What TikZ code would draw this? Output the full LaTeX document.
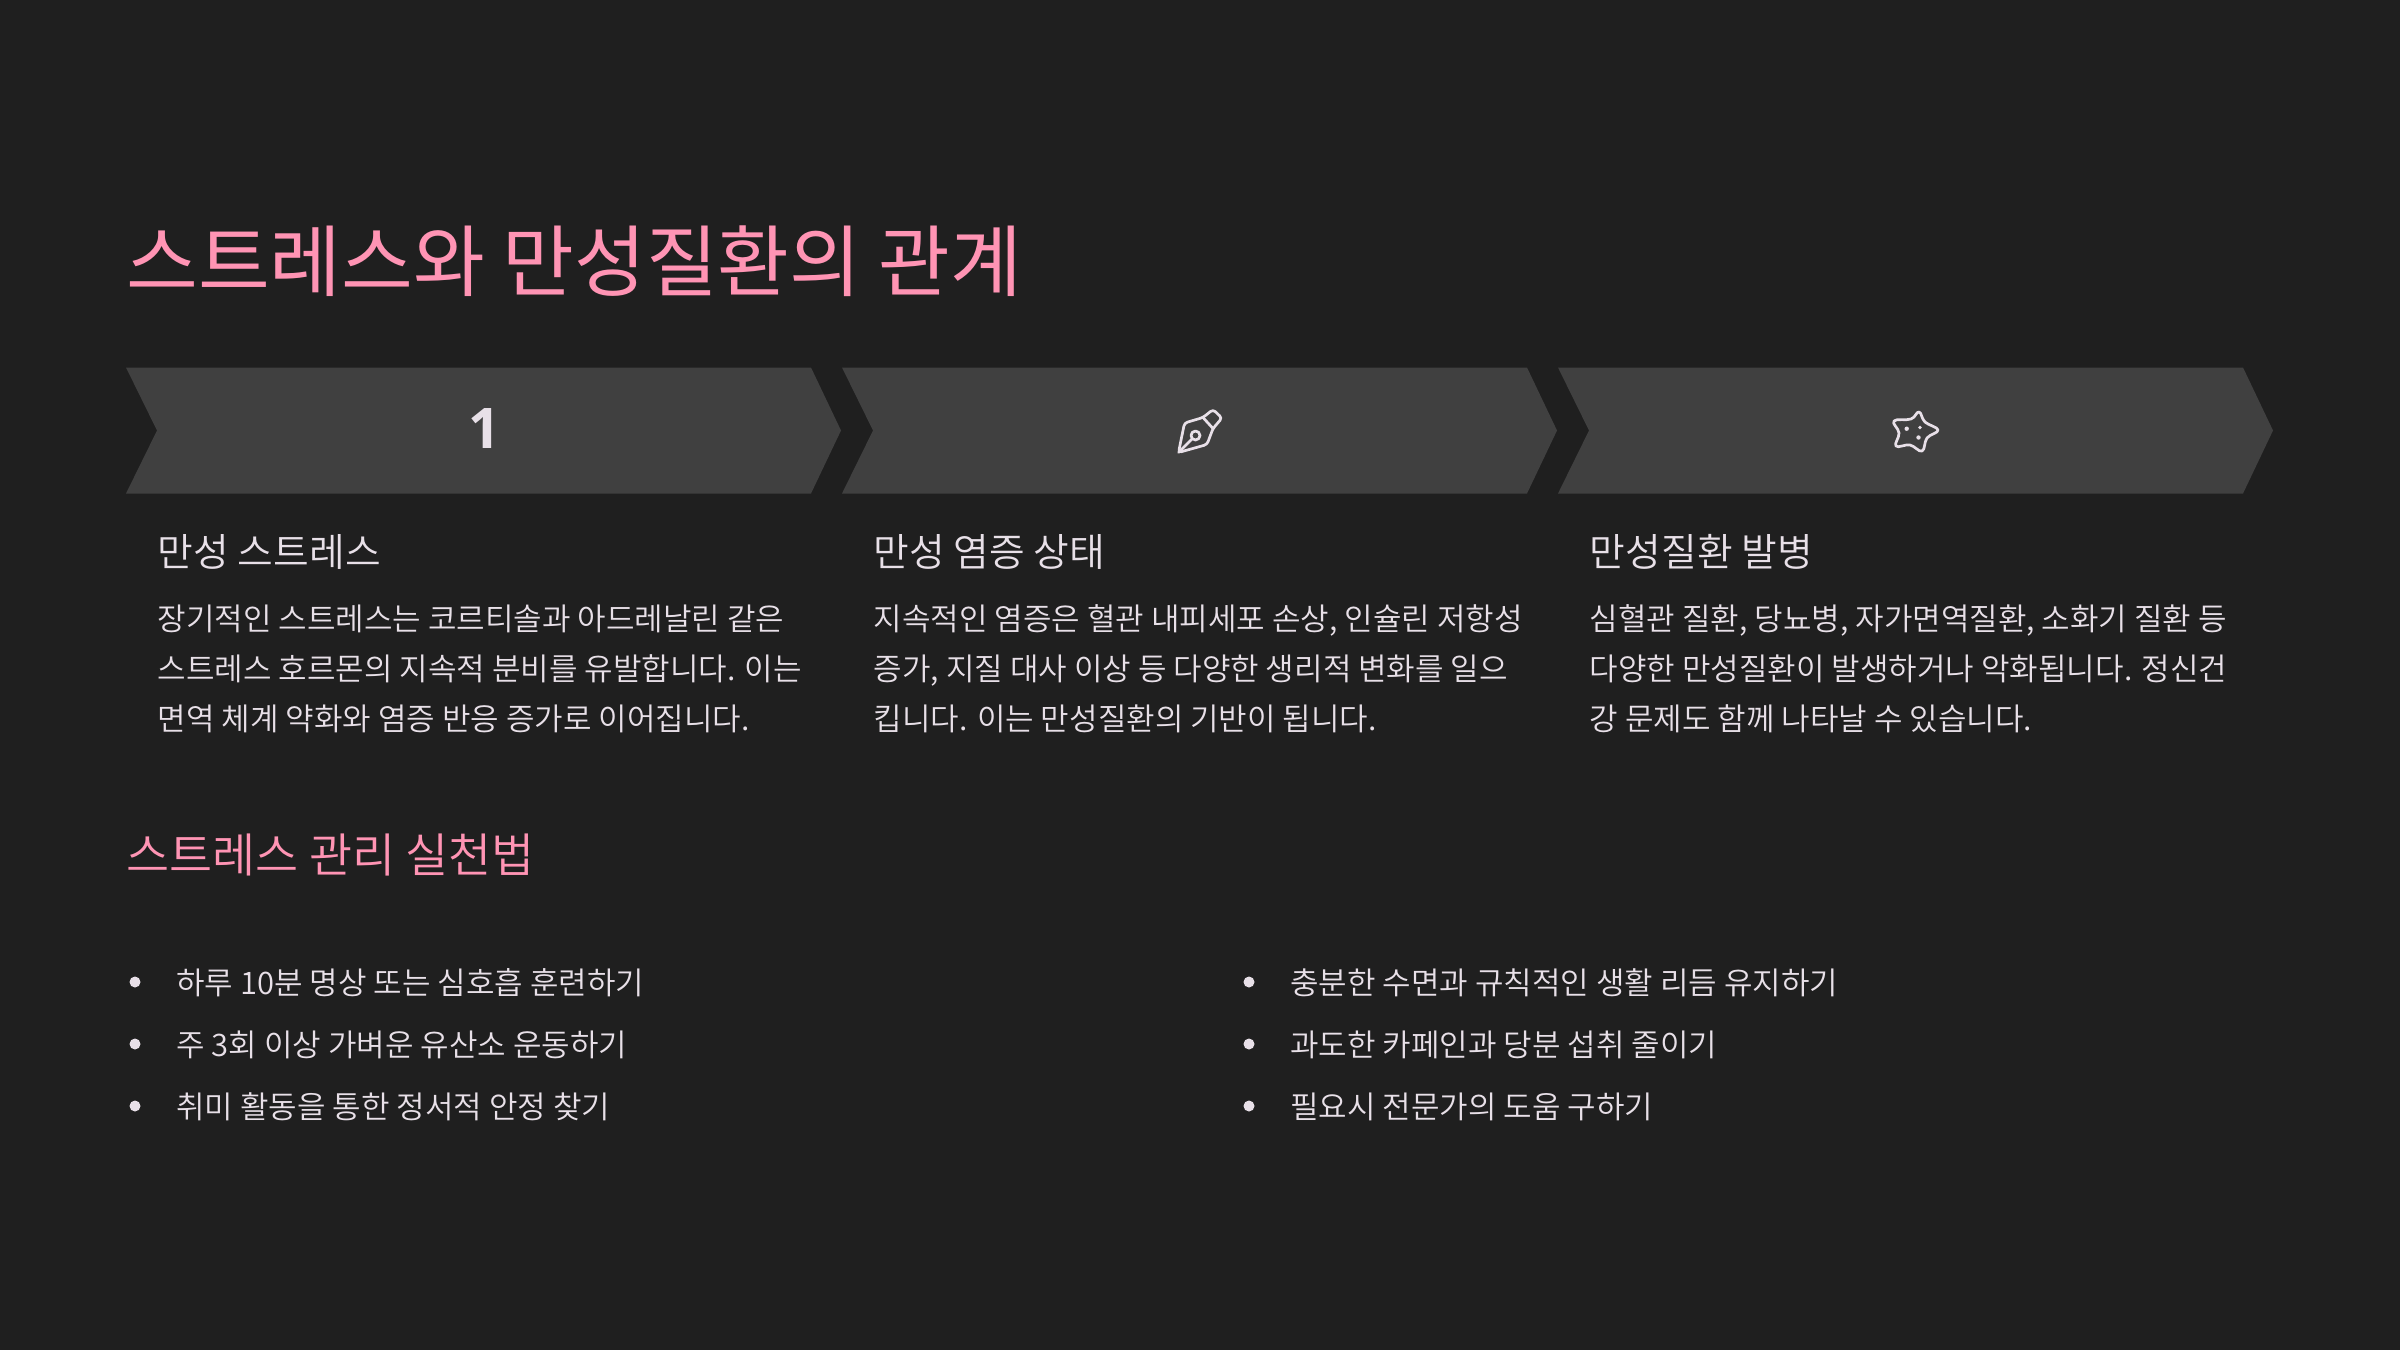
\documentclass[tikz,border=0pt]{standalone}
\usepackage{fontspec}
\setmainfont{Noto Sans CJK KR}[UprightFont=* DemiLight,BoldFont=* Medium]
\newfontfamily\regfont{Noto Sans CJK KR}
\newfontfamily\numfont{Open Sans}
\definecolor{bgc}{HTML}{1F1F1F}
\definecolor{chev}{HTML}{404040}
\definecolor{pinkc}{HTML}{FF94B4}
\definecolor{txt}{HTML}{E8E0E8}
\tikzset{
  x=0.5pt,y=-0.5pt,
  chevshape/.style={fill=chev,draw=none},
  titletxt/.style={anchor=base west,inner sep=0,text=pinkc,font=\regfont\fontsize{39}{39}\selectfont},
  subtxt/.style={anchor=base west,inner sep=0,text=pinkc,font=\fontsize{23.4}{24}\selectfont},
  headtxt/.style={anchor=base west,inner sep=0,text=txt,font=\fontsize{19.4}{20}\selectfont},
  bodytxt/.style={anchor=base west,inner sep=0,text=txt,align=left,font=\fontsize{15.5}{25}\selectfont},
  itemtxt/.style={anchor=base west,inner sep=0,text=txt,font=\fontsize{15.5}{16}\selectfont},
  dotb/.style={circle,fill=txt,inner sep=0,minimum size=5.5pt},
  iconline/.style={draw=txt,line width=1.35pt,line join=round,line cap=round,fill=none}
}
\begin{document}
\begin{tikzpicture}
\useasboundingbox[fill=bgc] (0,0) rectangle (2400,1350);
\fill[chevshape] (126,367.5) -- (811,367.5) -- (841,430.5) -- (811,493.5) -- (126,493.5) -- (157,430.5) -- cycle;
\fill[chevshape] (842,367.5) -- (1527,367.5) -- (1557,430.5) -- (1527,493.5) -- (842,493.5) -- (873,430.5) -- cycle;
\fill[chevshape] (1558,367.5) -- (2243,367.5) -- (2273,430.5) -- (2243,493.5) -- (1558,493.5) -- (1589,430.5) -- cycle;
\node[titletxt] (title) at (126,290) {스트레스와 만성질환의 관계};
\node[inner sep=0,text=txt,font=\numfont\fontsize{28}{28}\selectfont\bfseries] (n1) at (484,429) {1};
% pen icon
\draw[iconline,rounded corners=1.5pt] (1178.5,452.5) -- (1184.5,423) -- (1203,417.5) -- (1213,409.5) -- (1222,418) -- (1213,428.5) -- (1207,444.5) -- cycle;
\draw[iconline] (1203,417.5) -- (1213,428.5);
\draw[iconline] (1195.5,435.5) circle (4.5);
\draw[iconline] (1178.5,452.5) -- (1192.3,438.7);
% star icon
\draw[iconline] plot[smooth cycle,tension=0.7] coordinates {(1894,421) (1911,419) (1919,412) (1925,422) (1938,430) (1927,438) (1922,451) (1910,445) (1896,446) (1899,433)};
\fill[txt] (1906.7,428.7) circle (2.2) (1920,427.5) circle (1.8) (1918.5,437.5) circle (2.2);
\node[headtxt] (h1) at (157.5,566.5) {만성 스트레스};
\node[headtxt] (h2) at (873.5,566.5) {만성 염증 상태};
\node[headtxt] (h3) at (1589.5,566.5) {만성질환 발병};
\node[bodytxt] (b1) at (157.5,730) {장기적인 스트레스는 코르티솔과 아드레날린 같은\\스트레스 호르몬의 지속적 분비를 유발합니다. 이는\\면역 체계 약화와 염증 반응 증가로 이어집니다.};
\node[bodytxt] (b2) at (873.5,730) {지속적인 염증은 혈관 내피세포 손상, 인슐린 저항성\\증가, 지질 대사 이상 등 다양한 생리적 변화를 일으\\킵니다. 이는 만성질환의 기반이 됩니다.};
\node[bodytxt] (b3) at (1589.5,730) {심혈관 질환, 당뇨병, 자가면역질환, 소화기 질환 등\\다양한 만성질환이 발생하거나 악화됩니다. 정신건\\강 문제도 함께 나타날 수 있습니다.};
\node[subtxt] (sub) at (126,872) {스트레스 관리 실천법};
\node[dotb] (d1) at (135,982) {};
\node[dotb] (d2) at (135,1044) {};
\node[dotb] (d3) at (135,1106) {};
\node[dotb] (d4) at (1249,982) {};
\node[dotb] (d5) at (1249,1044) {};
\node[dotb] (d6) at (1249,1106) {};
\node[itemtxt] (i1) at (176,994) {하루 10분 명상 또는 심호흡 훈련하기};
\node[itemtxt] (i2) at (176,1056) {주 3회 이상 가벼운 유산소 운동하기};
\node[itemtxt] (i3) at (176,1118) {취미 활동을 통한 정서적 안정 찾기};
\node[itemtxt] (i4) at (1290,994) {충분한 수면과 규칙적인 생활 리듬 유지하기};
\node[itemtxt] (i5) at (1290,1056) {과도한 카페인과 당분 섭취 줄이기};
\node[itemtxt] (i6) at (1290,1118) {필요시 전문가의 도움 구하기};
\end{tikzpicture}
\end{document}
